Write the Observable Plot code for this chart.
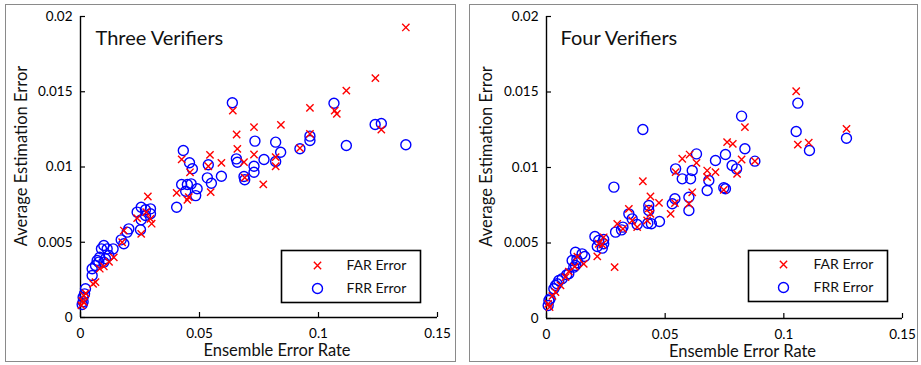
<!DOCTYPE html>
<html>
<head>
<meta charset="utf-8">
<script src="https://cdn.jsdelivr.net/npm/d3@7"></script>
<script src="https://cdn.jsdelivr.net/npm/@observablehq/plot@0.6"></script>
<style>
  html, body { margin: 0; padding: 0; background: #fff; }
  #wrap { position: relative; width: 921px; height: 365px; background: #fff; overflow: hidden; font-family: Lato, sans-serif; }
  .frame { position: absolute; box-sizing: border-box; border: 1.5px solid #8a8a8a; }
  .panel { position: absolute; top: 0; }
  .panel svg { display: block; }
</style>
</head>
<body>
<div id="wrap">
  <div class="frame" style="left:5px;top:4px;width:451px;height:358px;"></div>
  <div class="frame" style="left:469px;top:4px;width:449px;height:358px;"></div>
  <div class="panel" id="left" style="left:0px;"></div>
  <div class="panel" id="right" style="left:465px;"></div>
</div>
<script>
// ---- data ----
const titles = ["Three Verifiers", "Four Verifiers"];
const xLabel = "Ensemble Error Rate";
const yLabel = "Average Estimation Error";
const legendLabels = ["FAR Error", "FRR Error"];
const xTicks = [0, 0.05, 0.1, 0.15];
const yTicks = [0, 0.005, 0.01, 0.015, 0.02];

const threeFAR = [
  [0.1367,0.01927],[0.1239,0.0159],[0.1117,0.01508],[0.0964,0.01393],[0.1068,0.01375],
  [0.1077,0.01353],[0.0842,0.0128],[0.1264,0.01249],[0.0964,0.0122],[0.0922,0.01125],
  [0.082,0.01065],[0.082,0.01005],[0.064,0.01375],[0.0729,0.01265],[0.0656,0.01216],
  [0.0659,0.01121],[0.0729,0.01083],[0.0544,0.01081],[0.0425,0.0105],[0.0592,0.01028],
  [0.0687,0.01032],[0.0537,0.01005],[0.046,0.00965],[0.0547,0.00833],[0.0768,0.00884],
  [0.069,0.0093],[0.0404,0.00828],[0.0449,0.00782],[0.0455,0.008],[0.0283,0.00804],
  [0.0294,0.00656],[0.0299,0.00623],[0.0276,0.0070],[0.0238,0.0066],[0.0255,0.00556],
  [0.0182,0.00578],[0.0175,0.005],[0.014,0.004],[0.012,0.0037],[0.0081,0.00324],
  [0.0098,0.00339],[0.0063,0.00235],[0.0053,0.00224],[0.0022,0.0016],[0.0014,0.00146],
  [0.0004,0.0008],[0.0014,0.00102],[0.0007,0.0011]
];
const threeFRR = [
  [0.1065,0.01424],[0.1238,0.01282],[0.1264,0.01289],[0.0964,0.01205],[0.0964,0.01176],
  [0.082,0.01165],[0.0841,0.01098],[0.0922,0.01121],[0.1117,0.01143],[0.1367,0.01148],
  [0.0771,0.0105],[0.082,0.01037],[0.0638,0.01427],[0.0733,0.01172],[0.0432,0.0111],
  [0.0458,0.01028],[0.047,0.00988],[0.0537,0.01015],[0.0655,0.01054],[0.0659,0.01032],
  [0.0729,0.01005],[0.0729,0.00965],[0.0533,0.00928],[0.055,0.00892],[0.0592,0.00939],
  [0.0687,0.00937],[0.069,0.00915],[0.0425,0.00884],[0.0449,0.00884],[0.0465,0.00888],
  [0.0442,0.00839],[0.049,0.00855],[0.0484,0.0081],[0.0404,0.00733],[0.0255,0.00733],
  [0.0238,0.007],[0.0273,0.00716],[0.0294,0.00722],[0.0294,0.00689],[0.0273,0.00678],
  [0.0255,0.00649],[0.0252,0.00583],[0.0203,0.00589],[0.0196,0.00567],[0.0171,0.00516],
  [0.0182,0.0049],[0.0098,0.00478],[0.0112,0.00456],[0.0088,0.00456],[0.0137,0.00456],
  [0.0119,0.00412],[0.0081,0.004],[0.007,0.00379],[0.0105,0.0039],[0.0098,0.00368],
  [0.0077,0.00368],[0.0063,0.00346],[0.0049,0.00324],[0.0049,0.00279],[0.0021,0.00191],
  [0.0017,0.00157],[0.0011,0.00135],[0.0007,0.00086],[0.0011,0.00105]
];
const fourFAR = [
  [0.1052,0.01505],[0.1264,0.01256],[0.1059,0.01152],[0.1105,0.01164],[0.0836,0.01267],
  [0.0761,0.01168],[0.0785,0.01157],[0.0822,0.01053],[0.0878,0.01042],[0.0803,0.00958],
  [0.0572,0.01058],[0.0603,0.01086],[0.0632,0.01031],[0.0677,0.0098],[0.0544,0.00969],
  [0.0677,0.00936],[0.0712,0.00969],[0.0747,0.00852],[0.0614,0.00836],[0.06,0.0076],
  [0.0541,0.00764],[0.0523,0.00693],[0.0474,0.00766],[0.0406,0.00909],[0.0438,0.00808],
  [0.0431,0.0073],[0.0438,0.00693],[0.0424,0.00649],[0.0382,0.00605],[0.0347,0.00726],
  [0.0361,0.00649],[0.0322,0.00594],[0.0298,0.00627],[0.022,0.00495],[0.0235,0.0049],
  [0.0241,0.00538],[0.0214,0.00411],[0.0287,0.0034],[0.0157,0.00362],[0.013,0.0041],
  [0.0119,0.00344],[0.0094,0.0031],[0.008,0.00274],[0.0059,0.00219],[0.0038,0.00174],
  [0.0025,0.0015],[0.0007,0.00097],[0.0013,0.00075]
];
const fourFRR = [
  [0.1059,0.01426],[0.1264,0.01194],[0.1052,0.01238],[0.1108,0.01113],[0.0822,0.0134],
  [0.0836,0.01124],[0.0754,0.01086],[0.0878,0.01042],[0.0782,0.01013],[0.0801,0.00991],
  [0.0754,0.00859],[0.0406,0.01252],[0.0632,0.0109],[0.0712,0.01046],[0.0544,0.00991],
  [0.0614,0.0098],[0.0572,0.00925],[0.0607,0.00925],[0.0684,0.00914],[0.0677,0.00848],
  [0.0747,0.00866],[0.06,0.00803],[0.06,0.00715],[0.0541,0.00793],[0.053,0.0076],
  [0.0431,0.00748],[0.0431,0.00715],[0.0427,0.00631],[0.0442,0.00627],[0.0476,0.00642],
  [0.0382,0.00623],[0.0347,0.00693],[0.0361,0.0066],[0.0322,0.00605],[0.0316,0.00587],
  [0.0291,0.00572],[0.0284,0.0087],[0.0204,0.00543],[0.022,0.00517],[0.0241,0.00523],
  [0.0241,0.00495],[0.0214,0.00477],[0.0235,0.00466],[0.015,0.00428],[0.0161,0.00411],
  [0.0122,0.00439],[0.0128,0.0039],[0.0108,0.00384],[0.0115,0.0034],[0.0122,0.00351],
  [0.0131,0.0037],[0.0094,0.00296],[0.0085,0.0029],[0.0066,0.00263],[0.0052,0.00252],
  [0.0045,0.0023],[0.0038,0.00219],[0.0031,0.00197],[0.0015,0.0013],[0.001,0.00119],
  [0.0007,0.00086]
];

// ---- drawing ----
const RED = "#ff0000", BLUE = "#0000ff";
const R_CIRCLE = 5, R_TIMES = 3.4;

const leftCfg = {width: 460, mL: 80, mR: 23, mB: 48, titleDx: 15, ylDx: -59, lgL: 201, lgR: 17, lgB: 15, lgMx: -120, lgTx: -91};
const rightCfg = {width: 456, mL: 81, mR: 19, mB: 47, titleDx: 14, ylDx: -60, lgL: 202, lgR: 15, lgB: 17, lgMx: -119, lgTx: -89};

function render(cfg, title, far, frr) {
  const off = 15 - cfg.lgB;
  return Plot.plot({
    width: cfg.width, height: 365,
    marginLeft: cfg.mL, marginRight: cfg.mR, marginTop: 16, marginBottom: cfg.mB,
    style: {fontFamily: "Lato, sans-serif", background: "transparent", color: "#000"},
    x: {domain: [0, 0.15]},
    y: {domain: [0, 0.02]},
    marks: [
      Plot.axisX({ticks: xTicks, tickSize: -5, tickPadding: 16, tickFormat: d => String(d), fontSize: 13.5, strokeWidth: 1.2, label: null}),
      Plot.axisY({ticks: yTicks, tickSize: -5, tickPadding: 13, tickFormat: d => String(d), fontSize: 13.5, strokeWidth: 1.2, label: null}),
      Plot.ruleY([0], {stroke: "#000", strokeWidth: 1.4}),
      Plot.ruleX([0], {stroke: "#000", strokeWidth: 1.4}),
      Plot.dot(frr, {x: d => d[0], y: d => d[1], r: R_CIRCLE, stroke: BLUE, strokeWidth: 1.4, fill: "none"}),
      Plot.dot(far, {x: d => d[0], y: d => d[1], r: R_TIMES, symbol: "times", stroke: RED, strokeWidth: 1.4}),
      Plot.text([title], {frameAnchor: "top-left", dx: cfg.titleDx, dy: 28, textAnchor: "start", lineAnchor: "bottom", fontSize: 20, fill: "#111"}),
      Plot.text([xLabel], {frameAnchor: "bottom", dx: 18, dy: 38, textAnchor: "middle", lineAnchor: "bottom", fontSize: 16.5, fill: "#111"}),
      Plot.text([yLabel], {frameAnchor: "left", dx: cfg.ylDx, dy: -11, rotate: -90, textAnchor: "middle", lineAnchor: "middle", fontSize: 16.5, fill: "#111"}),
      Plot.frame({insetLeft: cfg.lgL, insetRight: cfg.lgR, insetTop: 234, insetBottom: cfg.lgB, stroke: "#000", strokeWidth: 1.6}),
      Plot.dot([legendLabels[0]], {frameAnchor: "bottom-right", dx: cfg.lgMx, dy: -52 + off, r: R_TIMES, symbol: "times", stroke: RED, strokeWidth: 1.4}),
      Plot.dot([legendLabels[1]], {frameAnchor: "bottom-right", dx: cfg.lgMx, dy: -29 + off, r: R_CIRCLE, stroke: BLUE, strokeWidth: 1.4, fill: "none"}),
      Plot.text([legendLabels[0]], {frameAnchor: "bottom-right", dx: cfg.lgTx, dy: -52 + off, textAnchor: "start", lineAnchor: "middle", fontSize: 14, fill: "#111"}),
      Plot.text([legendLabels[1]], {frameAnchor: "bottom-right", dx: cfg.lgTx, dy: -29 + off, textAnchor: "start", lineAnchor: "middle", fontSize: 14, fill: "#111"})
    ]
  });
}

document.getElementById("left").appendChild(render(leftCfg, titles[0], threeFAR, threeFRR));
document.getElementById("right").appendChild(render(rightCfg, titles[1], fourFAR, fourFRR));
</script>
</body>
</html>
